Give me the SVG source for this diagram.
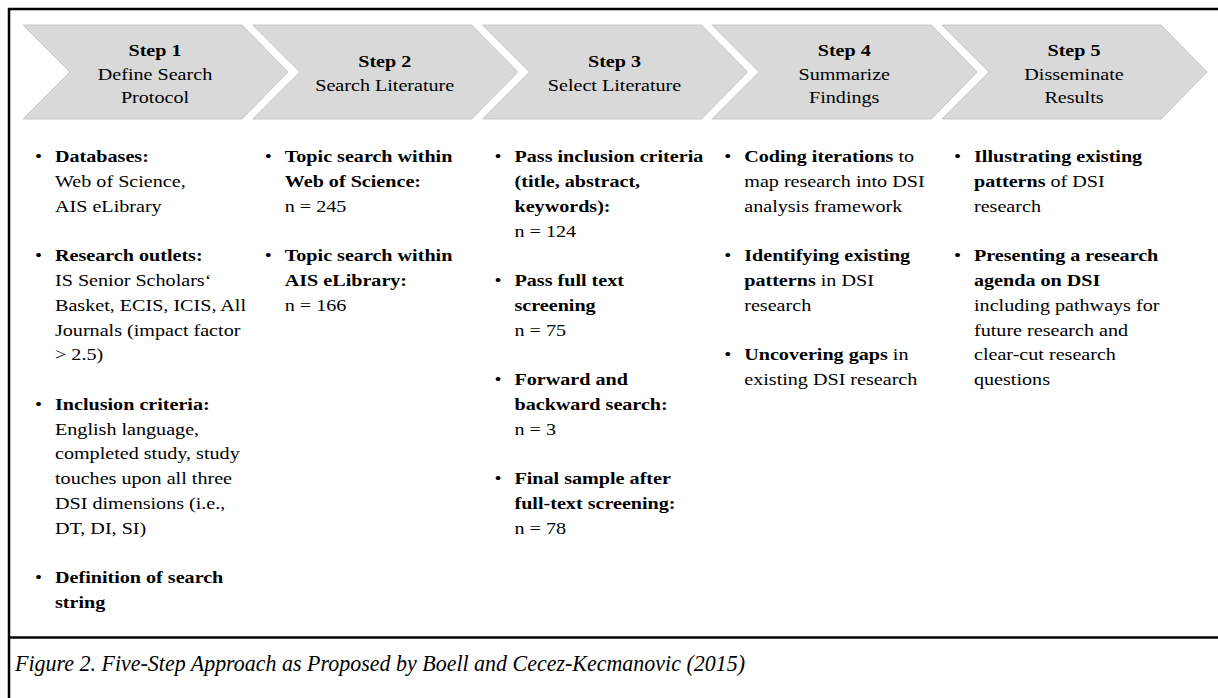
<svg xmlns="http://www.w3.org/2000/svg" width="1218" height="698" viewBox="0 0 1218 698">
<style>
  text { font-family: "Liberation Serif", "Times New Roman", serif; font-size: 17.5px; fill: #000; }
  .h { text-anchor: middle; }
  .b { font-weight: bold; }
  .chev { fill: #d9d9d9; stroke: #c6c6c6; stroke-width: 1; }
  .cap { font-style: italic; font-size: 23px; }
  .frame { fill: none; stroke: #000; stroke-width: 2.5; }
</style>
<rect width="1218" height="698" fill="#fff"/>
<g id="frame">
  <rect class="frame" x="9" y="9" width="1230" height="700"/>
  <line x1="9" y1="637.5" x2="1218" y2="637.5" stroke="#000" stroke-width="2.5"/>
</g>
<g id="connectors"></g>

<g id="step1">
  <polygon class="chev" points="23,25 242,25 288,72 242,119 23,119 70,72"/>
  <g transform="scale(1.15 1)">
    <text class="h b" x="134.78" y="56">Step 1</text>
    <text class="h" x="134.78" y="80">Define Search</text>
    <text class="h" x="134.78" y="103.5">Protocol</text>
    <text x="30.43" y="162.5">•</text>
    <text x="47.83" y="162.5" class="b">Databases:</text>
    <text x="47.83" y="187.25">Web of Science,</text>
    <text x="47.83" y="212">AIS eLibrary</text>
    <text x="30.43" y="261.5">•</text>
    <text x="47.83" y="261.5" class="b">Research outlets:</text>
    <text x="47.83" y="286.25">IS Senior Scholars‘</text>
    <text x="47.83" y="311">Basket, ECIS, ICIS, All</text>
    <text x="47.83" y="335.75">Journals (impact factor</text>
    <text x="47.83" y="360.5">&gt; 2.5)</text>
    <text x="30.43" y="410">•</text>
    <text x="47.83" y="410" class="b">Inclusion criteria:</text>
    <text x="47.83" y="434.75">English language,</text>
    <text x="47.83" y="459.5">completed study, study</text>
    <text x="47.83" y="484.25">touches upon all three</text>
    <text x="47.83" y="509">DSI dimensions (i.e.,</text>
    <text x="47.83" y="533.75">DT, DI, SI)</text>
    <text x="30.43" y="583.25">•</text>
    <text x="47.83" y="583.25" class="b">Definition of search</text>
    <text x="47.83" y="608" class="b">string</text>
  </g>
</g>

<g id="step2">
  <polygon class="chev" points="252.75,25 471.75,25 517.75,72 471.75,119 252.75,119 299.75,72"/>
  <g transform="scale(1.15 1)">
    <text class="h b" x="334.57" y="67">Step 2</text>
    <text class="h" x="334.57" y="91">Search Literature</text>
    <text x="230.22" y="162.5">•</text>
    <text x="247.61" y="162.5" class="b">Topic search within</text>
    <text x="247.61" y="187.25" class="b">Web of Science:</text>
    <text x="247.61" y="212">n = 245</text>
    <text x="230.22" y="261.5">•</text>
    <text x="247.61" y="261.5" class="b">Topic search within</text>
    <text x="247.61" y="286.25" class="b">AIS eLibrary:</text>
    <text x="247.61" y="311">n = 166</text>
  </g>
</g>

<g id="step3">
  <polygon class="chev" points="482.5,25 701.5,25 747.5,72 701.5,119 482.5,119 529.5,72"/>
  <g transform="scale(1.15 1)">
    <text class="h b" x="534.35" y="67">Step 3</text>
    <text class="h" x="534.35" y="91">Select Literature</text>
    <text x="430" y="162.5">•</text>
    <text x="447.39" y="162.5" class="b">Pass inclusion criteria</text>
    <text x="447.39" y="187.25" class="b">(title, abstract,</text>
    <text x="447.39" y="212" class="b">keywords):</text>
    <text x="447.39" y="236.75">n = 124</text>
    <text x="430" y="286.25">•</text>
    <text x="447.39" y="286.25" class="b">Pass full text</text>
    <text x="447.39" y="311" class="b">screening</text>
    <text x="447.39" y="335.75">n = 75</text>
    <text x="430" y="385.25">•</text>
    <text x="447.39" y="385.25" class="b">Forward and</text>
    <text x="447.39" y="410" class="b">backward search:</text>
    <text x="447.39" y="434.75">n = 3</text>
    <text x="430" y="484.25">•</text>
    <text x="447.39" y="484.25" class="b">Final sample after</text>
    <text x="447.39" y="509" class="b">full-text screening:</text>
    <text x="447.39" y="533.75">n = 78</text>
  </g>
</g>

<g id="step4">
  <polygon class="chev" points="712.25,25 931.25,25 977.25,72 931.25,119 712.25,119 759.25,72"/>
  <g transform="scale(1.15 1)">
    <text class="h b" x="734.13" y="56">Step 4</text>
    <text class="h" x="734.13" y="80">Summarize</text>
    <text class="h" x="734.13" y="103.5">Findings</text>
    <text x="629.78" y="162.5">•</text>
    <text x="647.17" y="162.5"><tspan class="b">Coding iterations</tspan> to</text>
    <text x="647.17" y="187.25">map research into DSI</text>
    <text x="647.17" y="212">analysis framework</text>
    <text x="629.78" y="261.5">•</text>
    <text x="647.17" y="261.5" class="b">Identifying existing</text>
    <text x="647.17" y="286.25"><tspan class="b">patterns</tspan> in DSI</text>
    <text x="647.17" y="311">research</text>
    <text x="629.78" y="360.5">•</text>
    <text x="647.17" y="360.5"><tspan class="b">Uncovering gaps</tspan> in</text>
    <text x="647.17" y="385.25">existing DSI research</text>
  </g>
</g>

<g id="step5">
  <polygon class="chev" points="942,25 1161,25 1207,72 1161,119 942,119 989,72"/>
  <g transform="scale(1.15 1)">
    <text class="h b" x="933.91" y="56">Step 5</text>
    <text class="h" x="933.91" y="80">Disseminate</text>
    <text class="h" x="933.91" y="103.5">Results</text>
    <text x="829.57" y="162.5">•</text>
    <text x="846.96" y="162.5" class="b">Illustrating existing</text>
    <text x="846.96" y="187.25"><tspan class="b">patterns</tspan> of DSI</text>
    <text x="846.96" y="212">research</text>
    <text x="829.57" y="261.5">•</text>
    <text x="846.96" y="261.5" class="b">Presenting a research</text>
    <text x="846.96" y="286.25" class="b">agenda on DSI</text>
    <text x="846.96" y="311">including pathways for</text>
    <text x="846.96" y="335.75">future research and</text>
    <text x="846.96" y="360.5">clear-cut research</text>
    <text x="846.96" y="385.25">questions</text>
  </g>
</g>

<g id="caption">
  <text class="cap" x="15" y="671" textLength="730" lengthAdjust="spacingAndGlyphs">Figure 2. Five-Step Approach as Proposed by Boell and Cecez-Kecmanovic (2015)</text>
</g>
</svg>
